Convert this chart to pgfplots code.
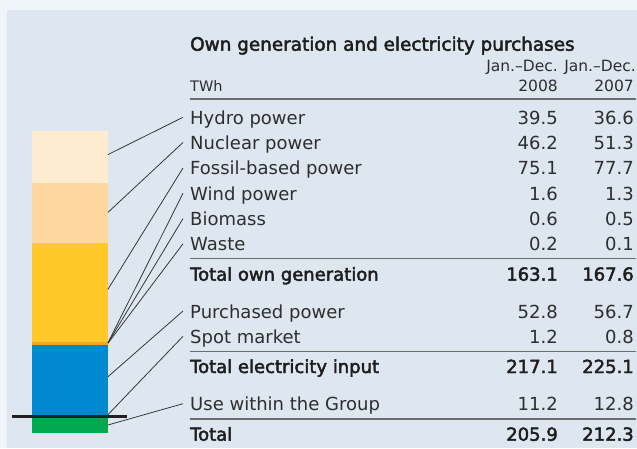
\documentclass[border=0pt]{standalone}
\usepackage{pgfplots}
\pgfplotsset{compat=1.18}
\usepackage{fontspec}
\setmainfont{DejaVu Sans}
\newfontfamily\medfont{DejaVu Sans}[FakeBold=2.5]
\definecolor{outerbg}{HTML}{F0F5FA}
\definecolor{panel}{HTML}{DEE6F0}
\definecolor{hydro}{HTML}{FEEBD0}
\definecolor{nuclear}{HTML}{FDD79F}
\definecolor{fossil}{HTML}{FFC92A}
\definecolor{wind}{HTML}{F7A724}
\definecolor{biomass}{HTML}{F5A021}
\definecolor{waste}{HTML}{9DC3E4}
\definecolor{purch}{HTML}{0089D0}
\definecolor{spot}{HTML}{0887CC}
\definecolor{usegreen}{HTML}{00A84F}
\definecolor{blackline}{HTML}{231F20}
\definecolor{txt}{HTML}{2E2E2E}
\definecolor{btxt}{HTML}{1E1E1E}
\definecolor{rule}{HTML}{6A6C6E}
\definecolor{leader}{HTML}{2E2E2E}
\begin{document}
\begin{tikzpicture}[x=1pt,y=1pt,
  lab/.style={anchor=base west, inner sep=0pt, text=txt, font=\fontsize{18}{18}\selectfont},
  num/.style={anchor=base east, inner sep=0pt, text=txt, font=\fontsize{18}{18}\selectfont},
  blab/.style={anchor=base west, inner sep=0pt, text=btxt, font=\fontsize{18}{18}\selectfont\medfont},
  bnum/.style={anchor=base east, inner sep=0pt, text=btxt, font=\fontsize{18}{18}\selectfont\medfont},
  hdr/.style={anchor=base east, inner sep=0pt, text=txt, font=\fontsize{15.5}{15.5}\selectfont},
  ld/.style={leader, line width=0.75pt}]
\fill[outerbg] (0,0) rectangle (637,448);
\fill[panel] (6.5,0) rectangle (637,438);
\useasboundingbox (0,0) rectangle (637,448);

\begin{axis}[at={(42,4.21)}, anchor=south west, width=76pt, height=315.48pt,
  scale only axis, hide axis, xmin=0, xmax=1, ymin=-20, ymax=220,
  ybar stacked, bar width=76pt, clip=false]
\addplot[fill=spot, draw=none] coordinates {(0.5,1.2)};
\addplot[fill=purch, draw=none] coordinates {(0.5,52.8)};
\addplot[fill=waste, draw=none] coordinates {(0.5,0.2)};
\addplot[fill=biomass, draw=none] coordinates {(0.5,0.6)};
\addplot[fill=wind, draw=none] coordinates {(0.5,1.6)};
\addplot[fill=fossil, draw=none] coordinates {(0.5,75.1)};
\addplot[fill=nuclear, draw=none] coordinates {(0.5,46.2)};
\addplot[fill=hydro, draw=none] coordinates {(0.5,39.5)};
\coordinate (hy) at (axis cs:1,199);
\coordinate (nu) at (axis cs:1,155);
\coordinate (fo) at (axis cs:1,96.5);
\coordinate (wi) at (axis cs:1,55.8);
\coordinate (bi) at (axis cs:1,55.6);
\coordinate (wa) at (axis cs:1,55.4);
\coordinate (pu) at (axis cs:1,30);
\coordinate (sp) at (axis cs:1,1.1);
\end{axis}

\begin{axis}[at={(42,4.21)}, anchor=south west, width=76pt, height=315.48pt,
  scale only axis, hide axis, xmin=0, xmax=1, ymin=-20, ymax=220,
  ybar stacked, bar width=76pt, clip=false]
\addplot[fill=none, draw=none] coordinates {(0.5,-1.5)};
\addplot[fill=usegreen, draw=none] coordinates {(0.5,-11.2)};
\draw[blackline, line width=3pt] (axis cs:-0.263,0) -- (axis cs:1.25,0);
\coordinate (us) at (axis cs:1,-6.7);
\end{axis}

% leader lines
\draw[ld] (hy) -- (183,330.7);
\draw[ld] (nu) -- (183,305.5);
\draw[ld] (fo) -- (183,280.0);
\draw[ld] (wi) -- (183,254.7);
\draw[ld] (bi) -- (183,229.4);
\draw[ld] (wa) -- (183,204.2);
\draw[ld] (pu) -- (183,137.0);
\draw[ld] (sp) -- (183,111.7);
\draw[ld] (us) -- (183,44.3);

% table
\node[blab, font=\fontsize{18.4}{18.4}\selectfont\medfont] at (190,397.3) {Own generation and electricity purchases};
\node[hdr] at (558,376.3) {Jan.\textendash Dec.};
\node[hdr] at (636,376.3) {Jan.\textendash Dec.};
\node[hdr, anchor=base west, font=\fontsize{14.5}{14.5}\selectfont] at (190,356.8) {TWh};
\node[hdr] at (558,356.8) {2008};
\node[hdr] at (634,356.8) {2007};
\draw[rule, line width=1.5pt] (190,349) -- (636,349);

\node[lab] at (190,323.7) {Hydro power};       \node[num] at (558,323.7) {39.5}; \node[num] at (634,323.7) {36.6};
\node[lab] at (190,298.4) {Nuclear power};     \node[num] at (558,298.4) {46.2}; \node[num] at (634,298.4) {51.3};
\node[lab] at (190,273.1) {Fossil-based power};\node[num] at (558,273.1) {75.1}; \node[num] at (634,273.1) {77.7};
\node[lab] at (190,247.8) {Wind power};        \node[num] at (558,247.8) {1.6};  \node[num] at (634,247.8) {1.3};
\node[lab] at (190,222.5) {Biomass};           \node[num] at (558,222.5) {0.6};  \node[num] at (634,222.5) {0.5};
\node[lab] at (190,197.2) {Waste};             \node[num] at (558,197.2) {0.2};  \node[num] at (634,197.2) {0.1};
\draw[rule, line width=1.2pt] (190,189.7) -- (636,189.7);
\node[blab] at (190,167.3) {Total own generation}; \node[bnum] at (558,167.3) {163.1}; \node[bnum] at (634,167.3) {167.6};
\node[lab] at (190,130.0) {Purchased power};   \node[num] at (558,130.0) {52.8}; \node[num] at (634,130.0) {56.7};
\node[lab] at (190,104.7) {Spot market};       \node[num] at (558,104.7) {1.2};  \node[num] at (634,104.7) {0.8};
\draw[rule, line width=1.2pt] (190,96.7) -- (636,96.7);
\node[blab] at (190,75.0) {Total electricity input}; \node[bnum] at (558,75.0) {217.1}; \node[bnum] at (634,75.0) {225.1};
\node[lab] at (190,37.3) {Use within the Group}; \node[num] at (558,37.3) {11.2}; \node[num] at (634,37.3) {12.8};
\draw[rule, line width=1.2pt] (190,29) -- (636,29);
\node[blab] at (190,7.3) {Total}; \node[bnum] at (558,7.3) {205.9}; \node[bnum] at (634,7.3) {212.3};
\end{tikzpicture}
\end{document}
